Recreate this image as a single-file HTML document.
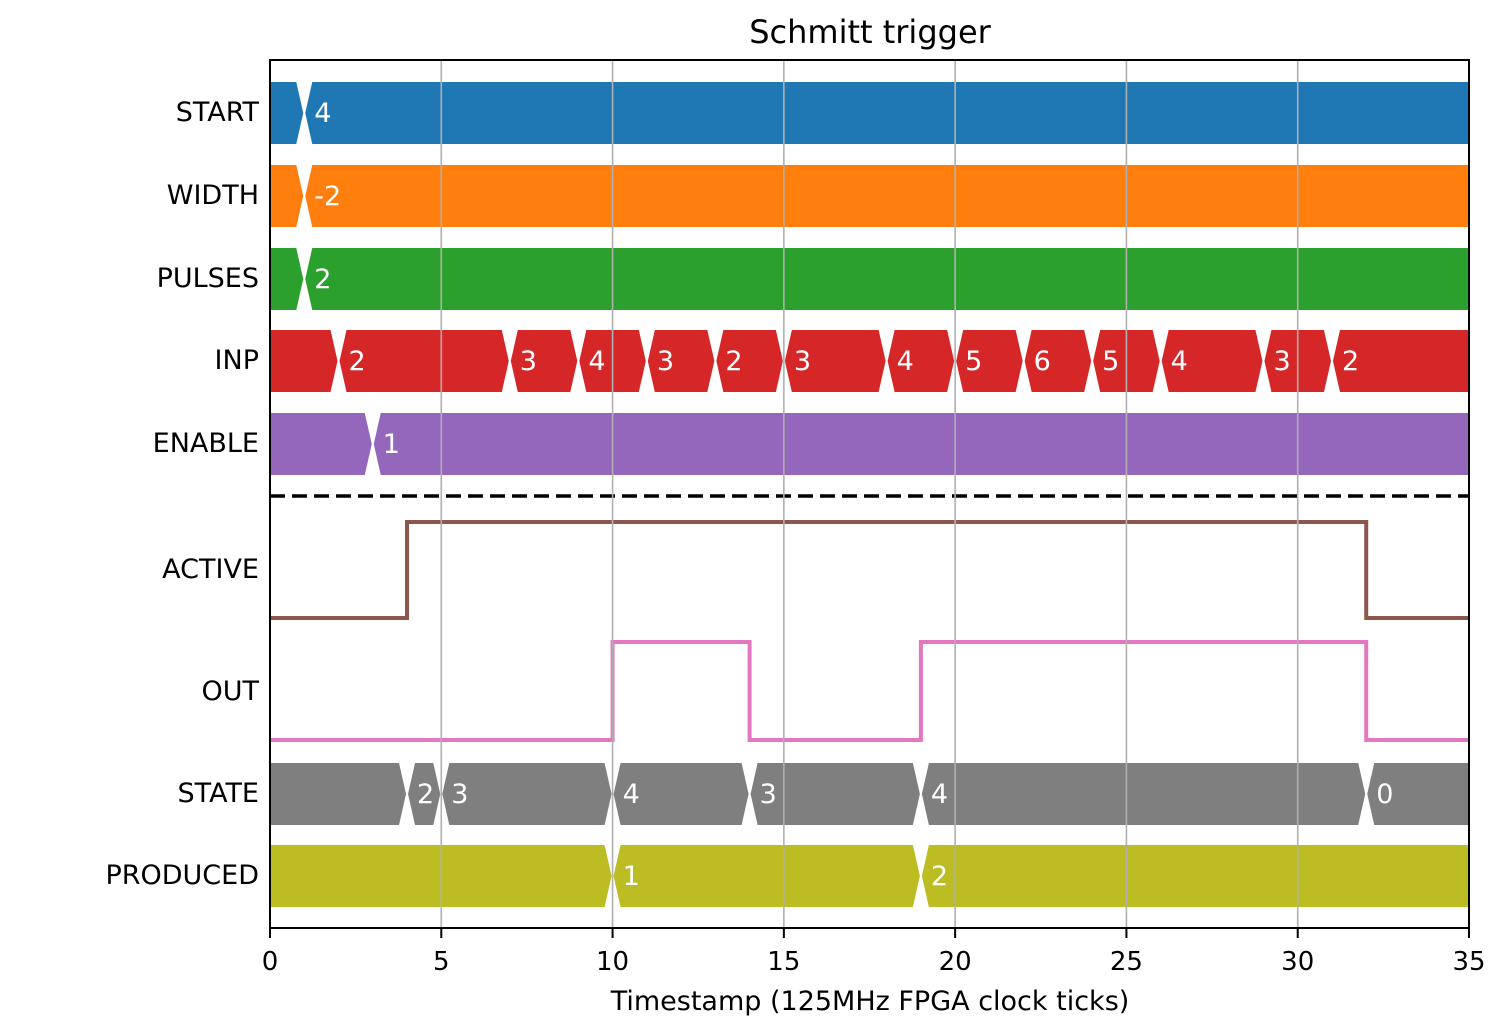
<!DOCTYPE html>
<html><head><meta charset="utf-8"><style>
body{margin:0;background:#fff}
text{font-family:"DejaVu Sans","Liberation Sans",sans-serif}
</style></head><body>
<svg id="chart" width="1500" height="1030" xmlns="http://www.w3.org/2000/svg">
<rect width="1500" height="1030" fill="#fff"/>
<text x="870" y="43" font-size="32" text-anchor="middle">Schmitt trigger</text>
<g id="plot"></g>
</svg>
<script>
const xTicks=[0,5,10,15,20,25,30,35];
const busNames=["START","WIDTH","PULSES","INP","ENABLE","STATE","PRODUCED"];
const busColors=["#1f77b4","#ff7f0e","#2ca02c","#d62728","#9467bd","#7f7f7f","#bcbd22"];
const busTimes=[[1],[1],[1],[2,7,9,11,13,15,18,20,22,24,26,29,31],[3],[4,5,10,14,19,32],[10,19]];
const busValues=[["4"],["-2"],["2"],["2","3","4","3","2","3","4","5","6","5","4","3","2"],["1"],["2","3","4","3","4","0"],["1","2"]];
const busRowY=[113,196,279,361,444,794,876];
const activeTimes=[0,4,32,35];
const activeLevels=[0,1,0,0];
const outTimes=[0,10,14,19,32,35];
const outLevels=[0,1,0,1,0,0];

const X0=270,X1=1469,T0=0,T1=35,TOP=60,BOT=928;
const sx=t=>X0+(t-T0)/(T1-T0)*(X1-X0);
const NS="http://www.w3.org/2000/svg";
const g=document.getElementById('plot');
function mk(tag,attrs,parent){const e=document.createElementNS(NS,tag);for(const k in attrs)e.setAttribute(k,attrs[k]);(parent||g).appendChild(e);return e;}

const H=31,TP=8,GAP=1;
busNames.forEach((name,i)=>{
  const cy=busRowY[i];
  const bg=mk('g',{});
  
  
  const edges=[T0,...busTimes[i],T1];
  for(let k=0;k<edges.length-1;k++){
    const a=sx(edges[k]),b=sx(edges[k+1]);
    const la=k>0, rb=k<edges.length-2;
    const pts=[];
    if(la){pts.push([a+GAP,cy],[a+TP,cy-H]);}else{pts.push([a,cy],[a,cy-H]);}
    if(rb){pts.push([b-TP,cy-H],[b-GAP,cy],[b-TP,cy+H]);}else{pts.push([b,cy-H],[b,cy+H]);}
    if(la){pts.push([a+TP,cy+H]);}else{pts.push([a,cy+H]);}
    const p=mk('polygon',{points:pts.map(q=>q.join(',')).join(' '),fill:busColors[i]},bg);
    
    
    if(k>0){
      const t=mk('text',{x:a+10,y:cy+9,'font-size':27,fill:'#fff'},bg);
      
      
      t.textContent=busValues[i][k-1];
    }
  }
});

function step(times,levels,yLow,yHigh,color,name){
  let d='';
  for(let k=0;k<times.length;k++){
    const y=levels[k]?yHigh:yLow;
    if(k===0)d+='M'+sx(times[k])+','+y;
    else{const py=levels[k-1]?yHigh:yLow;d+=' L'+sx(times[k])+','+py+' L'+sx(times[k])+','+y;}
  }
  const p=mk('path',{d:d,fill:'none',stroke:color,'stroke-width':4});
  
  
}
step(activeTimes,activeLevels,618,522,'#8c564b','active-signal-line');
step(outTimes,outLevels,740,642,'#e377c2','out-signal-line');

const sep=mk('line',{x1:X0,x2:X1,y1:496,y2:496,stroke:'#000','stroke-width':3.5,'stroke-dasharray':'15,7'});



xTicks.forEach(t=>{
  const x=sx(t);
  if(t>T0&&t<T1){const gl=mk('line',{x1:x,x2:x,y1:TOP,y2:BOT,stroke:'#b0b0b0','stroke-width':1.6});
  
  }
  const tk=mk('line',{x1:x,x2:x,y1:BOT,y2:BOT+10,stroke:'#000','stroke-width':2});
  
  
  const tl=mk('text',{x:x,y:BOT+42,'font-size':26,'text-anchor':'middle'});
  
  
  tl.textContent=t;
});

const ylabels=["START","WIDTH","PULSES","INP","ENABLE","ACTIVE","OUT","STATE","PRODUCED"];
const ylabelY=[113,196,279,361,444,570,692,794,876];
ylabels.forEach((s,i)=>{
  const t=mk('text',{x:259,y:ylabelY[i]+8,'font-size':27,'text-anchor':'end'});
  
  
  t.textContent=s;
});

const fr=mk('rect',{x:X0,y:TOP,width:X1-X0,height:BOT-TOP,fill:'none',stroke:'#000','stroke-width':2});



const xl=mk('text',{x:870,y:1010,'font-size':27,'text-anchor':'middle'});


xl.textContent='Timestamp (125MHz FPGA clock ticks)';
</script>
</body></html>
